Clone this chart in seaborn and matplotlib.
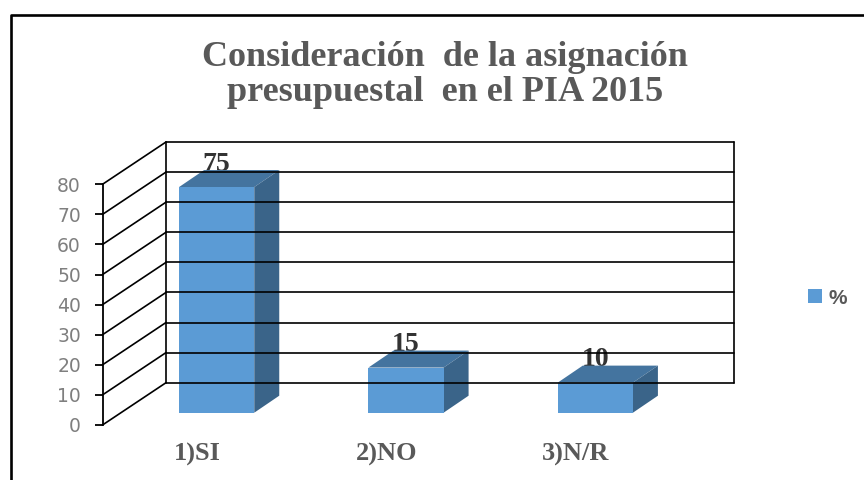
import matplotlib
matplotlib.use("Agg")
import matplotlib.pyplot as plt
import pandas as pd
import seaborn as sns
from matplotlib.lines import Line2D
from matplotlib.patches import Polygon
from matplotlib.transforms import Affine2D, IdentityTransform

# ============================================
# DATA
# ============================================

categories = ["1)SI", "2)NO", "3)N/R"]
values = [75, 15, 10]
y_ticks = [0, 10, 20, 30, 40, 50, 60, 70, 80]
title_text = "Consideración  de la asignación\npresupuestal  en el PIA 2015"
series_name = "%"

W, H = 864, 480
FRONT = "#5B9BD5"
TOP = "#44749F"
SIDE = "#3A6489"
GREY = "#595959"

# depth of the fake 3D box and of the bars, in pixels
BOX_DX, BOX_DY = 63.5, 42.3
BAR_DX, BAR_DY = 25, 17
BAR_SHIFT = (19.5, 12.3)

sns.set_theme(style="white")

df = pd.DataFrame({"cat": categories, "val": values})

fig = plt.figure(figsize=(W / 100, H / 100), dpi=100, facecolor="white")
ax = fig.add_axes([102.5 / W, 1 - 425 / H, 568 / W, 240.7 / H])
ax.patch.set_alpha(0)

sns.barplot(data=df, x="cat", y="val", color=FRONT, saturation=1, width=0.397,
            label=series_name, ax=ax, zorder=5)

ax.set_ylim(0, 80)
ax.set_yticks(y_ticks)
ax.set_xlabel("")
ax.set_ylabel("")
for s in ["top", "right", "bottom"]:
    ax.spines[s].set_visible(False)
ax.spines["left"].set_color("black")
ax.spines["left"].set_linewidth(1.3)
ax.tick_params(axis="y", left=True, length=5.5, width=1.3, color="black",
               labelcolor="#7F7F7F", labelsize=13.5, pad=10)
ax.tick_params(axis="x", bottom=False, pad=7)
for lab in ax.get_xticklabels():
    lab.set_family("Liberation Serif")
    lab.set_weight("bold")
    lab.set_size(19)
    lab.set_color(GREY)

# ============================================
# BACK WALL AND FLOOR
# ============================================

fig.canvas.draw()
x0_px = ax.transAxes.transform((0, 0))[0]
x1_px = ax.transAxes.transform((1, 0))[0]
for v in y_ticks:
    y_px = ax.transData.transform((0, v))[1]
    fig.add_artist(Line2D([x0_px, x0_px + BOX_DX], [y_px, y_px + BOX_DY],
                          transform=IdentityTransform(), color="black", lw=1.2, zorder=1))
    fig.add_artist(Line2D([x0_px + BOX_DX, x1_px + BOX_DX], [y_px + BOX_DY, y_px + BOX_DY],
                          transform=IdentityTransform(), color="black", lw=1.2, zorder=1))

y_lo = ax.transData.transform((0, 0))[1] + BOX_DY
y_hi = ax.transData.transform((0, 80))[1] + BOX_DY
for x_px in [x0_px + BOX_DX, x1_px + BOX_DX]:
    fig.add_artist(Line2D([x_px, x_px], [y_lo, y_hi], transform=IdentityTransform(),
                          color="black", lw=1.2, zorder=1))

# ============================================
# 3D BARS
# ============================================

shift = Affine2D().translate(*BAR_SHIFT)
for bar, val in zip(ax.patches, values):
    (xa, ya), (xb, yb) = ax.transData.transform(
        [(bar.get_x(), 0), (bar.get_x() + bar.get_width(), val)])
    xa, xb = xa + BAR_SHIFT[0], xb + BAR_SHIFT[0]
    ya, yb = ya + BAR_SHIFT[1], yb + BAR_SHIFT[1]

    bar.set_transform(ax.transData + shift)
    bar.set_clip_on(False)
    bar.set_edgecolor("none")

    ax.add_artist(Polygon([(xa, yb), (xb, yb), (xb + BAR_DX, yb + BAR_DY), (xa + BAR_DX, yb + BAR_DY)],
                          closed=True, transform=IdentityTransform(), facecolor=TOP,
                          edgecolor="none", zorder=4, clip_on=False))
    ax.add_artist(Polygon([(xb, ya), (xb + BAR_DX, ya + BAR_DY), (xb + BAR_DX, yb + BAR_DY), (xb, yb)],
                          closed=True, transform=IdentityTransform(), facecolor=SIDE,
                          edgecolor="none", zorder=4, clip_on=False))
    ax.text((xa + xb) / 2, yb + 23, str(val), transform=IdentityTransform(),
            family="Liberation Serif", weight="bold", size=20, color="#333333",
            ha="center", va="center", zorder=3)

# ============================================
# TITLE, LEGEND, FRAME
# ============================================

fig.text(445 / W, 1 - 75 / H, title_text, family="Liberation Serif", weight="bold",
         size=26, color=GREY, ha="center", va="center", linespacing=1.07)

leg = ax.legend(loc="center left", bbox_to_anchor=(791 / W, 1 - 298 / H),
                bbox_transform=fig.transFigure, frameon=False, handlelength=0.7,
                handleheight=0.65, handletextpad=0.3, borderpad=0.3,
                prop={"family": "Liberation Sans", "weight": "bold", "size": 15})
leg.get_texts()[0].set_color(GREY)

fig.add_artist(Line2D([10.5 / W, 10.5 / W, 1], [0, 1 - 14.5 / H, 1 - 14.5 / H],
                      transform=fig.transFigure, color="black", lw=1.9))

fig.savefig("out.png", dpi=100)
